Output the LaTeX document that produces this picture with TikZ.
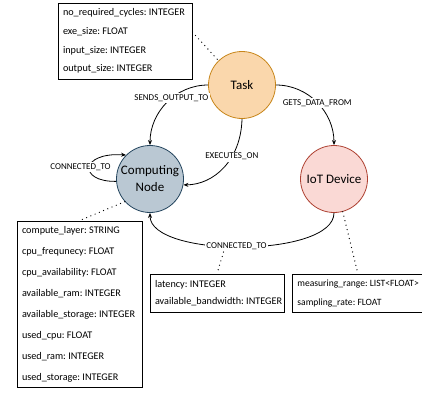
\documentclass[tikz,border=0pt]{standalone}
\usepackage{fontspec}
\setmainfont{Carlito}
\frenchspacing
\usetikzlibrary{arrows.meta,calc}
\definecolor{taskfill}{HTML}{FAD7AC}
\definecolor{taskdraw}{HTML}{C8861A}
\definecolor{compfill}{HTML}{BAC8D3}
\definecolor{compdraw}{HTML}{23445D}
\definecolor{iotfill}{HTML}{FAD9D5}
\definecolor{iotdraw}{HTML}{AE4132}
\tikzset{
  entity/.style={circle, minimum size=67pt, inner sep=0pt, line width=0.8pt, font=\fontsize{13}{17}\selectfont, align=center},
  attrbox/.style={draw=black, line width=0.8pt, inner xsep=5pt, inner ysep=0pt, align=flush left, anchor=center},
  edge/.style={draw=black, line width=0.8pt, -{Stealth[length=5pt,width=4pt]}},
  elabel/.style={fill=white, inner sep=1.5pt, font=\fontsize{9}{10}\selectfont},
  dotline/.style={draw=black, line width=1.3pt, line cap=round, dash pattern=on 0pt off 4.6pt},
}
\begin{document}
\begin{tikzpicture}[x=1pt,y=1pt]
\useasboundingbox (0,0) rectangle (422,392);
% entities
\node[entity, fill=taskfill, draw=taskdraw] (task) at (242,307) {Task};
\node[entity, fill=compfill, draw=compdraw] (comp) at (150,213) {Computing\\Node};
\node[entity, fill=iotfill, draw=iotdraw] (iot) at (334,213) {IoT Device};
% attribute boxes
\node[attrbox, minimum width=134pt, minimum height=76pt, text width=124pt,
  font=\fontsize{10.2}{18.7}\selectfont] (topbox) at (125,351)
  {no\_required\_cycles: INTEGER\\exe\_size: FLOAT\\input\_size: INTEGER\\output\_size: INTEGER};
\node[attrbox, minimum width=125pt, minimum height=166pt, text width=115pt,
  font=\fontsize{10.2}{21}\selectfont] (blbox) at (79.5,88)
  {compute\_layer: STRING\\cpu\_frequnecy: FLOAT\\cpu\_availability: FLOAT\\available\_ram: INTEGER\\available\_storage: INTEGER\\used\_cpu: FLOAT\\used\_ram: INTEGER\\used\_storage: INTEGER};
\node[attrbox, minimum width=134pt, minimum height=38pt, text width=124pt,
  font=\fontsize{10.2}{17}\selectfont] (latbox) at (217,99)
  {latency: INTEGER\\\mbox{available\_bandwidth: INTEGER}};
\node[attrbox, anchor=west, minimum width=140pt, minimum height=38pt, text width=130pt,
  font=\fontsize{9.6}{19}\selectfont] (measbox) at (292,98.5)
  {\mbox{measuring\_range: LIST<FLOAT>}\\sampling\_rate: FLOAT};
% edges
\draw[edge] (task.west) to[out=180,in=90] node[elabel, pos=0.43] {SENDS\_OUTPUT\_TO} (comp.north);
\draw[edge] (task.south) .. controls (241,232) and (214,207.3) .. node[elabel, pos=0.36] {EXECUTES\_ON} (comp.-10);
\draw[edge] (task.east) to[out=0,in=90] node[elabel, pos=0.5] {GETS\_DATA\_FROM} (iot.north);
\draw[edge] (comp.184) .. controls (78,210) and (80,240) .. node[elabel, pos=0.5, xshift=-9pt] {CONNECTED\_TO} (comp.135);
\draw[edge] (iot.south) .. controls (334,134) and (150,134) .. node[elabel, pos=0.52] (ctlabel) {CONNECTED\_TO} (comp.south);
% dotted attribute links
\draw[dotline] ([yshift=9pt]topbox.east) -- (task.134);
\draw[dotline] (comp.222) -- (blbox.north);
\draw[dotline] ([xshift=-13pt]ctlabel.south) -- (latbox.north);
\draw[dotline] (iot.285) -- ([xshift=66pt]measbox.north west);
\end{tikzpicture}
\end{document}
